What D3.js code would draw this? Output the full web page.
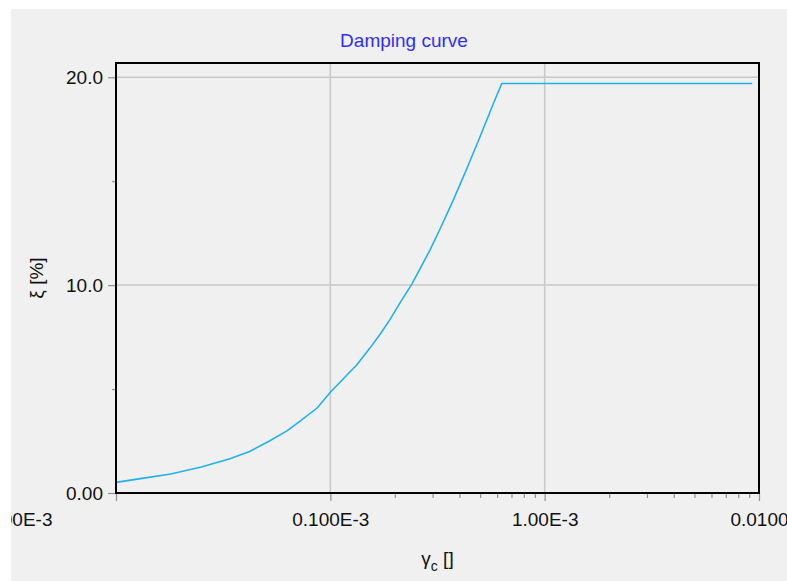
<!DOCTYPE html>
<html>
<head>
<meta charset="utf-8">
<script src="https://cdn.jsdelivr.net/npm/d3@7"></script>
<style>
  body { margin: 0; background: #fff; }
  text { font-family: "Liberation Sans", Arial, sans-serif; }
</style>
</head>
<body>
<div id="chart"></div>
<script>
// shear strain (log) vs damping ratio
const gammaVals = [1.0e-5, 1.3e-5, 1.8e-5, 2.5e-5, 3.4e-5, 4.2e-5, 5.2e-5, 6.3e-5, 7.2e-5, 8.7e-5,
                   1.0e-4, 1.33e-4, 1.53e-4, 1.71e-4, 1.9e-4, 2.11e-4, 2.4e-4, 2.62e-4, 2.92e-4,
                   3.25e-4, 3.75e-4, 4.33e-4, 5.0e-4, 5.77e-4, 6.31e-4, 9.3e-3]
const xiVals = [0.51, 0.69, 0.91, 1.25, 1.65, 2.0, 2.5, 3.0, 3.45, 4.1,
                4.85, 6.17, 6.97, 7.65, 8.35, 9.13, 10.05, 10.78, 11.7,
                12.7, 14.1, 15.6, 17.15, 18.75, 19.7, 19.7]

const xTicks = [1e-5, 1e-4, 1e-3, 1e-2]
const xTickLabels = ["0.0100E-3", "0.100E-3", "1.00E-3", "0.0100"]
const xMinorTicks = [2e-4, 3e-4, 4e-4, 5e-4, 6e-4, 7e-4, 8e-4, 9e-4,
                     2e-3, 3e-3, 4e-3, 5e-3, 6e-3, 7e-3, 8e-3, 9e-3]
const yTicks = [0, 10, 20]
const yTickLabels = ["0.00", "10.0", "20.0"]
const yMinorTicks = [5, 15]

const width = 787, height = 581
const margin = {top: 63, right: 28, bottom: 88, left: 116}
const w = width - margin.left - margin.right
const h = height - margin.top - margin.bottom

const data = gammaVals.map((g, i) => ({g: g, xi: xiVals[i]}))

const svg = d3.select("#chart").append("svg")
    .attr("width", width)
    .attr("height", height)

svg.append("rect")
    .attr("width", width).attr("height", height)
    .attr("fill", "#f0f0f0")

const g = svg.append("g")
    .attr("transform", `translate(${margin.left}, ${margin.top})`)

const xScale = d3.scaleLog().domain([1e-5, 1e-2]).range([0, w])
const yScale = d3.scaleLinear().domain([0, 19.7 * 1.05]).range([h, 0])

// grid
g.append("g")
    .selectAll("line.hgrid")
    .data(yTicks.filter(d => d > 0))
    .join("line")
    .attr("x1", 0).attr("x2", w)
    .attr("y1", d => yScale(d)).attr("y2", d => yScale(d))
    .attr("stroke", "#c8c8c8").attr("stroke-width", 1.5)

g.append("g")
    .selectAll("line.vgrid")
    .data(xTicks.slice(1, -1))
    .join("line")
    .attr("x1", d => xScale(d)).attr("x2", d => xScale(d))
    .attr("y1", 0).attr("y2", h)
    .attr("stroke", "#c8c8c8").attr("stroke-width", 1.5)

// x axis
const xAxis = d3.axisBottom(xScale)
    .tickValues(xTicks)
    .tickFormat((d, i) => xTickLabels[i])
    .tickSize(8)
    .tickPadding(12)

const xa = g.append("g")
    .attr("transform", `translate(0, ${h})`)
    .call(xAxis)
xa.select(".domain").remove()
xa.selectAll(".tick line").attr("stroke", "#909090").attr("stroke-width", 1.2)
xa.selectAll(".tick text")
    .attr("font-size", 19)
    .attr("fill", "#111")
// first label sits left of its tick and runs under the window border
xa.selectAll(".tick text").filter((d, i) => i === 0)
    .attr("text-anchor", "end")
    .attr("x", -64)

const xMinorAxis = d3.axisBottom(xScale)
    .tickValues(xMinorTicks)
    .tickFormat("")
    .tickSize(5)
const xm = g.append("g")
    .attr("transform", `translate(0, ${h})`)
    .call(xMinorAxis)
xm.select(".domain").remove()
xm.selectAll(".tick line").attr("stroke", "#909090").attr("stroke-width", 1.2)

// y axis
const yAxis = d3.axisLeft(yScale)
    .tickValues(yTicks)
    .tickFormat((d, i) => yTickLabels[i])
    .tickSize(8)
    .tickPadding(5)
const ya = g.append("g").call(yAxis)
ya.select(".domain").remove()
ya.selectAll(".tick line").attr("stroke", "#909090").attr("stroke-width", 1.2)
ya.selectAll(".tick text")
    .attr("font-size", 19)
    .attr("fill", "#111")

const yMinorAxis = d3.axisLeft(yScale)
    .tickValues(yMinorTicks)
    .tickFormat("")
    .tickSize(4)
const ym = g.append("g").call(yMinorAxis)
ym.select(".domain").remove()
ym.selectAll(".tick line").attr("stroke", "#909090").attr("stroke-width", 1.2)

// curve
const line = d3.line()
    .x(d => xScale(d.g))
    .y(d => yScale(d.xi))

g.append("path")
    .datum(data)
    .attr("fill", "none")
    .attr("stroke", "#1eb2ec")
    .attr("stroke-width", 1.6)
    .attr("d", line)

// frame
g.append("rect")
    .attr("width", w).attr("height", h)
    .attr("fill", "none")
    .attr("stroke", "#000")
    .attr("stroke-width", 2)

// title
svg.append("text")
    .attr("x", 404).attr("y", 47)
    .attr("text-anchor", "middle")
    .attr("font-size", 19)
    .attr("fill", "#2f2ff5")
    .text("Damping curve")

// axis titles
const xt = svg.append("text")
    .attr("x", margin.left + w / 2).attr("y", 565)
    .attr("text-anchor", "middle")
    .attr("font-size", 19)
    .attr("fill", "#111")
xt.append("tspan").text("γ")
xt.append("tspan").attr("font-size", 14).attr("dy", 6).text("c")
xt.append("tspan").attr("dy", -6).text(" []")

svg.append("text")
    .attr("transform", `translate(43, ${margin.top + h / 2}) rotate(-90)`)
    .attr("text-anchor", "middle")
    .attr("font-size", 19)
    .attr("fill", "#111")
    .text("ξ [%]")

// white outer border of the window
svg.append("rect").attr("x", 0).attr("y", 0).attr("width", 11).attr("height", height).attr("fill", "#fff")
svg.append("rect").attr("x", 0).attr("y", 0).attr("width", width).attr("height", 9).attr("fill", "#fff")
</script>
</body>
</html>
